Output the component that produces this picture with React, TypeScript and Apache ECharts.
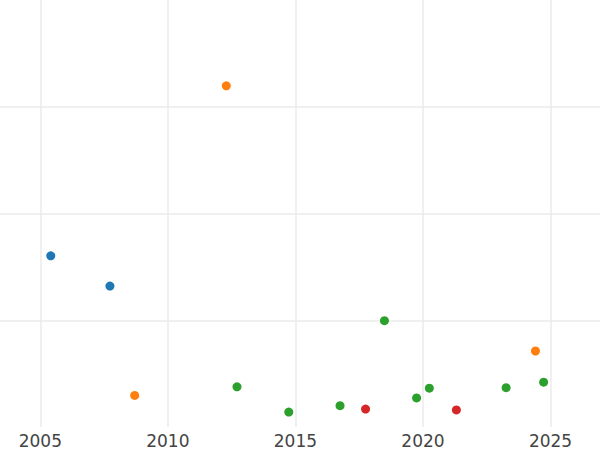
import React, { useEffect, useRef } from "react";
import * as echarts from "echarts";

const blueYears = [2005.41, 2007.73];
const blueValues = [40.1, 33.0];
const orangeYears = [2012.29, 2008.7, 2024.41];
const orangeValues = [79.9, 7.4, 17.8];
const greenYears = [2012.71, 2014.74, 2016.75, 2018.49, 2019.75, 2020.25, 2023.26, 2024.73];
const greenValues = [9.4, 3.5, 5.0, 24.9, 6.8, 9.1, 9.2, 10.5];
const redYears = [2017.75, 2021.31];
const redValues = [4.2, 4.0];

const pair = (xs: number[], ys: number[]) => xs.map((x, i) => [x, ys[i]]);

export default function App() {
  const ref = useRef<HTMLDivElement>(null);
  useEffect(() => {
    if (!ref.current) return;
    const chart = echarts.init(ref.current, undefined, { renderer: "svg" });
    const grid = "#ebebeb";
    const mk = (name: string, color: string, xs: number[], ys: number[]) => ({
      name,
      type: "scatter",
      data: pair(xs, ys),
      symbolSize: 9,
      itemStyle: { color, opacity: 1 },
    });
    chart.setOption({
      animation: false,
      backgroundColor: "#ffffff",
      grid: { left: 0, right: 0, top: 0, bottom: 23, containLabel: false },
      xAxis: {
        type: "value",
        min: 2003.42,
        max: 2026.94,
        axisLine: { show: false },
        axisTick: { show: false },
        axisLabel: {
          show: true,
          showMinLabel: false,
          showMaxLabel: false,
          color: "#444444",
          fontSize: 17,
          fontFamily: "DejaVu Sans",
          margin: 5,
          formatter: (v: number) => String(Math.round(v)),
        },
        splitLine: {
          show: true,
          lineStyle: {
            color: ["transparent", grid, grid, grid, grid, grid, "transparent"],
            width: 1.5,
          },
        },
      },
      yAxis: {
        type: "value",
        min: 0,
        max: 100,
        interval: 25,
        axisLine: { show: false },
        axisTick: { show: false },
        axisLabel: { show: false },
        splitLine: {
          show: true,
          lineStyle: {
            color: ["transparent", grid, grid, grid, "transparent"],
            width: 1.5,
          },
        },
      },
      series: [
        mk("A", "#1f77b4", blueYears, blueValues),
        mk("B", "#ff7f0e", orangeYears, orangeValues),
        mk("C", "#2ca02c", greenYears, greenValues),
        mk("D", "#d62728", redYears, redValues),
      ],
    });
    return () => chart.dispose();
  }, []);
  return <div ref={ref} style={{ width: 600, height: 450, position: "absolute", left: 0, top: 0 }} />;
}
